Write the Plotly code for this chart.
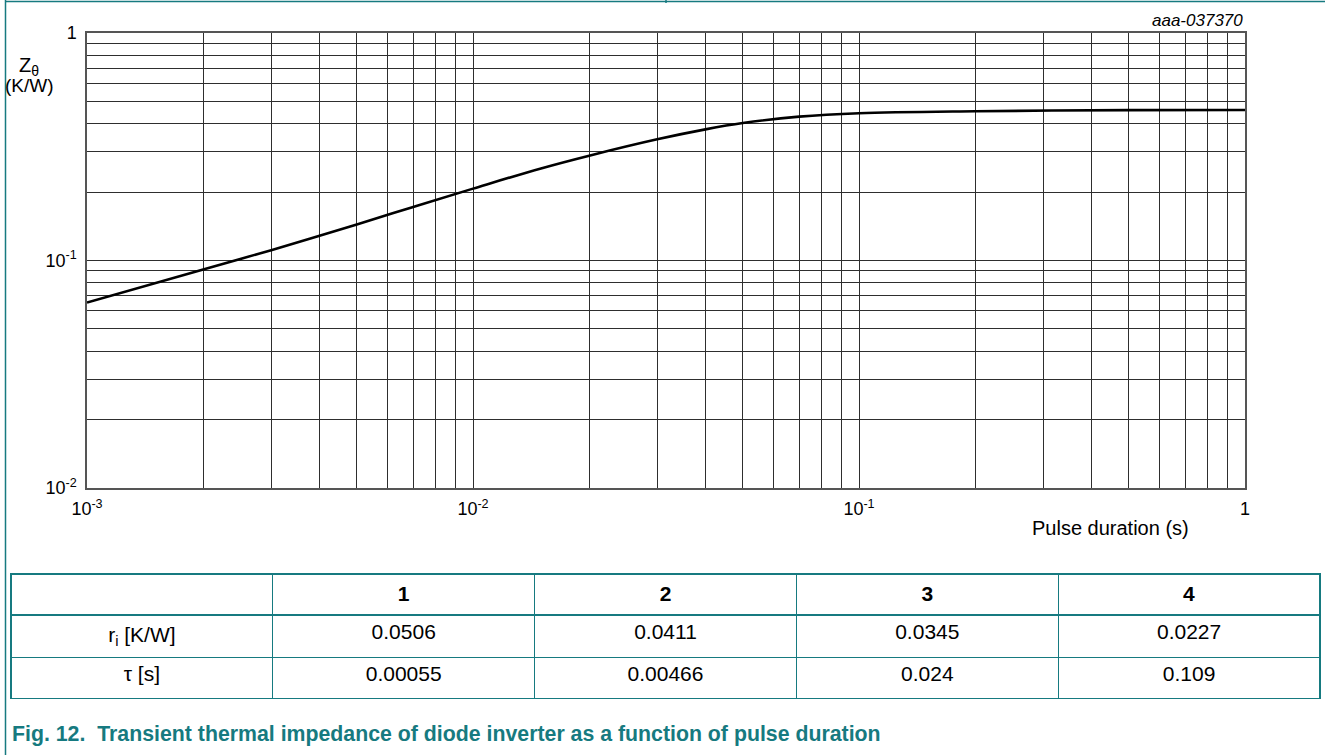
import plotly.graph_objects as go

# ---- data ----
pulse_s = [1e-3, 2e-3, 3e-3, 5e-3, 7e-3, 1e-2, 1.5e-2, 2e-2, 3e-2, 4e-2,
           5e-2, 7e-2, 0.1, 0.2, 0.5, 1.0]
z_th = [0.0653, 0.0914, 0.111, 0.144, 0.172, 0.207, 0.254, 0.289, 0.341, 0.377,
        0.402, 0.429, 0.444, 0.453, 0.458, 0.459]

x_decades = [1e-3, 1e-2, 1e-1, 1.0]
x_labels = ["10<sup>-3</sup>", "10<sup>-2</sup>", "10<sup>-1</sup>", "1"]
y_decades = [1e-2, 1e-1, 1.0]
y_labels = ["10<sup>-2</sup>", "10<sup>-1</sup>", "1"]

table_header = ["", "<b>1</b>", "<b>2</b>", "<b>3</b>", "<b>4</b>"]
row_labels = ["r<sub>i</sub> [K/W]", "τ [s]"]
r_i = ["0.0506", "0.0411", "0.0345", "0.0227"]
tau = ["0.00055", "0.00466", "0.024", "0.109"]

TEAL = "#167a80"
W, H = 1325, 755
FONT = "Liberation Sans, Arial, sans-serif"


def grid_values(decades, labels):
    vals, text = [], []
    for i, d in enumerate(decades):
        vals.append(d)
        text.append(labels[i])
        if i < len(decades) - 1:
            for m in range(2, 10):
                vals.append(d * m)
                text.append("")
    return vals, text


xv, xt = grid_values(x_decades, x_labels)
yv, yt = grid_values(y_decades, y_labels)

fig = go.Figure()
fig.add_trace(go.Scatter(x=pulse_s, y=z_th, mode="lines",
                         line=dict(color="black", width=2.6, shape="spline", smoothing=1.0),
                         showlegend=False, hoverinfo="skip"))

cols = [row_labels] + [[r_i[k], tau[k]] for k in range(4)]
fig.add_trace(go.Table(
    domain=dict(x=[11 / W, 1320 / W], y=[0.02, 1 - 574 / H]),
    columnwidth=[1, 1, 1, 1, 1],
    header=dict(values=table_header, height=41, align="center",
                line=dict(color=TEAL, width=1.3), fill=dict(color="white"),
                font=dict(family=FONT, size=21, color="black")),
    cells=dict(values=cols, height=41, align="center",
               line=dict(color=TEAL, width=1.3), fill=dict(color="white"),
               font=dict(family=FONT, size=21, color="black")),
))

axis_common = dict(type="log", showgrid=True, gridcolor="#2e2e2e", gridwidth=1,
                   showline=True, mirror=True, linecolor="#555555", linewidth=1.5,
                   ticks="", tickfont=dict(family=FONT, size=18, color="black"),
                   zeroline=False, fixedrange=True, automargin=False)

fig.update_layout(
    template="none",
    width=W, height=H,
    margin=dict(l=0, r=0, t=0, b=0, pad=0),
    paper_bgcolor="white", plot_bgcolor="white",
    font=dict(family=FONT, color="black"),
    showlegend=False,
    xaxis=dict(axis_common, range=[-3, 0], domain=[87 / W, 1245 / W],
               tickmode="array", tickvals=xv, ticktext=xt, ticklabelstandoff=4),
    yaxis=dict(axis_common, range=[-2, 0], domain=[1 - 488 / H, 1 - 33 / H],
               tickmode="array", tickvals=yv, ticktext=yt, ticklabelstandoff=5),
    annotations=[
        dict(text="Z<sub>θ</sub>", x=29 / W, y=1 - 66 / H, xref="paper", yref="paper",
             xanchor="center", yanchor="middle",
             showarrow=False, font=dict(family=FONT, size=20, color="black")),
        dict(text="(K/W)", x=30 / W, y=1 - 86 / H, xref="paper", yref="paper",
             xanchor="center", yanchor="middle",
             showarrow=False, font=dict(family=FONT, size=19, color="black")),
        dict(text="Pulse duration (s)", x=1110 / W, y=1 - 528 / H, xref="paper", yref="paper",
             xanchor="center", yanchor="middle",
             showarrow=False, font=dict(family=FONT, size=20, color="black")),
        dict(text="<i>aaa-037370</i>", x=1245 / W, y=1 - 21 / H, xref="paper", yref="paper",
             xanchor="right", yanchor="middle",
             showarrow=False, font=dict(family=FONT, size=17, color="black")),
        dict(text="<b>Fig. 12.  Transient thermal impedance of diode inverter as a function of pulse duration</b>",
             x=10 / W, y=1 - 734 / H, xref="paper", yref="paper",
             xanchor="left", yanchor="middle",
             showarrow=False, font=dict(family=FONT, size=21.3, color=TEAL)),
    ],
    shapes=[
        dict(type="line", xref="paper", yref="paper", x0=5.5 / W, x1=5.5 / W, y0=0, y1=1,
             line=dict(color=TEAL, width=1.5)),
        dict(type="line", xref="paper", yref="paper", x0=5 / W, x1=1, y0=1 - 1.5 / H, y1=1 - 1.5 / H,
             line=dict(color=TEAL, width=1.5)),
        dict(type="line", xref="paper", yref="paper", x0=666 / W, x1=666 / W, y0=1, y1=1 - 3 / H,
             line=dict(color=TEAL, width=1.5)),
    ],
)

fig.write_html("out.html",
               config={"displayModeBar": False},
               post_script="document.body.style.margin='0';document.body.style.padding='0';")
